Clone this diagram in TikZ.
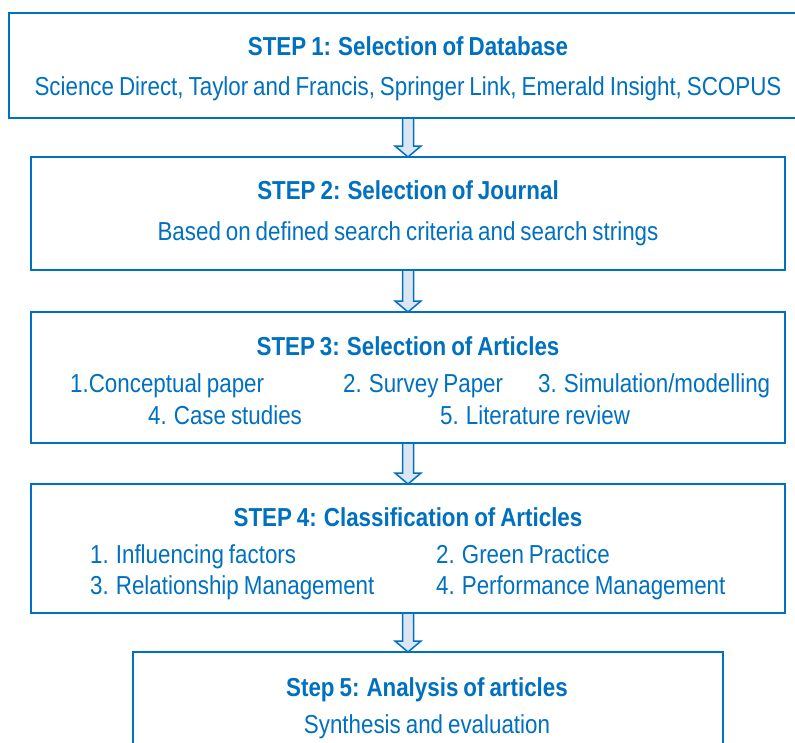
\documentclass[tikz,border=0pt]{standalone}
\usepackage{fontspec}
\setmainfont{Liberation Sans}[FakeStretch=0.86, WordSpace=0.8]
\usetikzlibrary{calc}
\definecolor{stepblue}{HTML}{0070C0}
\definecolor{arrowfill}{HTML}{DCE6F2}
\tikzset{
  stepbox/.style={draw=stepblue, line width=2pt, rectangle, outer sep=0pt, inner sep=0pt},
  ttl/.style={anchor=base, text=stepblue, inner sep=0pt, font=\fontsize{26}{30}\selectfont\bfseries},
  txt/.style={anchor=base, text=stepblue, inner sep=0pt, font=\fontsize{26}{30}\selectfont},
  txtl/.style={txt, anchor=base west},
  blockarrow/.style={draw=stepblue, fill=arrowfill, line width=1.5pt, line join=miter}
}
\newcommand{\blockarr}[2]{%
  \draw[blockarrow] ($(#1.south)+(-5.5,0)$) -- ($(#1.south)+(5.5,0)$) --
    ($(#1.south |- #2.north)+(5.5,-11)$) -- ($(#1.south |- #2.north)+(13,-11)$) --
    (#1.south |- #2.north) -- ($(#1.south |- #2.north)+(-13,-11)$) --
    ($(#1.south |- #2.north)+(-5.5,-11)$) -- cycle;}
\begin{document}
\begin{tikzpicture}[x=1pt,y=-1pt]
\useasboundingbox (0,0) rectangle (795,742);
\clip (0,0) rectangle (795,742);
\fill[white] (0,0) rectangle (795,742);
% boxes
\node[stepbox, minimum width=798pt, minimum height=105pt] (b1) at (408,65.5) {};
\node[stepbox, minimum width=754pt, minimum height=113pt] (b2) at (408,213.5) {};
\node[stepbox, minimum width=754pt, minimum height=131pt] (b3) at (408,377.5) {};
\node[stepbox, minimum width=754pt, minimum height=129pt] (b4) at (408,548.5) {};
\node[stepbox, minimum width=590.5pt, minimum height=138pt] (b5) at (427.75,721) {};
% arrows
\blockarr{b1}{b2}
\blockarr{b2}{b3}
\blockarr{b3}{b4}
\blockarr{b4}{b5}
% texts
\node[ttl] (t1) at (408,55) {STEP 1: Selection of Database};
\node[txt] (s1) at (408,95) {Science Direct, Taylor and Francis, Springer Link, Emerald Insight, SCOPUS};
\node[ttl] (t2) at (408,199.5) {STEP 2: Selection of Journal};
\node[txt] (s2) at (408,240) {Based on defined search criteria and search strings};
\node[ttl] (t3) at (408,355) {STEP 3: Selection of Articles};
\node[txtl] (a1) at (70,392) {1.Conceptual paper};
\node[txtl] (a2) at (343,392) {2. Survey Paper};
\node[txtl] (a3) at (538,392) {3. Simulation/modelling};
\node[txtl] (a4) at (148,424) {4. Case studies};
\node[txtl] (a5) at (440,424) {5. Literature review};
\node[ttl] (t4) at (408,526) {STEP 4: Classification of Articles};
\node[txtl] (c1) at (90,563) {1. Influencing factors};
\node[txtl] (c2) at (436,563) {2. Green Practice};
\node[txtl] (c3) at (90,594) {3. Relationship Management};
\node[txtl] (c4) at (436,594) {4. Performance Management};
\node[ttl] (t5) at (427,696) {Step 5: Analysis of articles};
\node[txt] (s5) at (427,733) {Synthesis and evaluation};
\end{tikzpicture}
\end{document}
